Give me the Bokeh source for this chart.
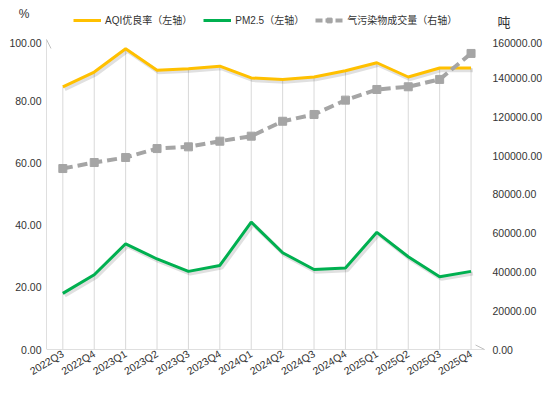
from bokeh.plotting import figure
from bokeh.layouts import column
from bokeh.models import (ColumnDataSource, Range1d, LinearAxis, NumeralTickFormatter,
                          FixedTicker, Legend, LegendItem, Arrow, OpenHead)
from bokeh.transform import dodge
from bokeh.embed import file_html
from bokeh.resources import INLINE

quarters = ["2022Q3", "2022Q4", "2023Q1", "2023Q2", "2023Q3", "2023Q4", "2024Q1",
            "2024Q2", "2024Q3", "2024Q4", "2025Q1", "2025Q2", "2025Q3", "2025Q4"]
aqi = [84.7, 89.5, 97.0, 90.1, 90.6, 91.4, 87.6, 87.1, 87.9, 89.9, 92.5, 87.9, 90.8, 90.8]
pm25 = [18.1, 24.1, 34.1, 29.2, 25.2, 27.1, 41.1, 31.2, 25.8, 26.3, 37.8, 29.9, 23.5, 25.2]
volume = [93400, 96500, 99100, 103700, 104600, 107500, 110100, 117800, 121300,
          128700, 134200, 135600, 139400, 152800]
left_ticks = [0, 20, 40, 60, 80, 100]
right_ticks = [0, 20000, 40000, 60000, 80000, 100000, 120000, 140000, 160000]
series_names = ["AQI优良率（左轴）", "PM2.5（左轴）", "气污染物成交量（右轴）"]
left_unit = "%"
right_unit = "吨"

FONT = "Liberation Sans, Noto Sans CJK SC"
TXT = "#333333"
C_AQI = "#FFC000"
C_PM = "#00B050"
C_VOL = "#A5A5A5"
GRID = "#D9D9D9"
FW = 439
HEAD_H = 38
BL, BR = 46, 56


def clean_axis(ax, size, standoff):
    ax.axis_line_color = None
    ax.major_tick_line_color = None
    ax.minor_tick_line_color = None
    ax.major_tick_out = 0
    ax.major_tick_in = 0
    ax.minor_tick_out = 0
    ax.minor_tick_in = 0
    ax.major_label_standoff = standoff
    ax.major_label_text_font = FONT
    ax.major_label_text_font_size = size
    ax.major_label_text_color = TXT


# ---------------- header: units + legend ----------------
h = figure(frame_width=FW, frame_height=HEAD_H, output_backend="svg", toolbar_location=None,
           x_range=Range1d(0, FW), y_range=Range1d(0, HEAD_H), x_axis_location=None,
           min_border_left=BL, min_border_right=BR, min_border_top=0, min_border_bottom=0)
h.outline_line_color = None
h.xgrid.grid_line_color = None
h.ygrid.grid_line_color = None
hl = h.yaxis[0]
hl.ticker = FixedTicker(ticks=[25])
hl.major_label_overrides = {25: left_unit}
clean_axis(hl, "12px", 17)
hr = LinearAxis(ticker=FixedTicker(ticks=[16]), major_label_overrides={16: right_unit})
clean_axis(hr, "13px", 12)
h.add_layout(hr, "right")

dummy = ColumnDataSource(dict(x=[float("nan")], y=[float("nan")]))
h_aqi = h.line("x", "y", source=dummy, line_color=C_AQI, line_width=3)
h_pm = h.line("x", "y", source=dummy, line_color=C_PM, line_width=3)
h_vl = h.line("x", "y", source=dummy, line_color=C_VOL, line_width=4, line_dash="7 3")
h_vs = h.scatter("x", "y", source=dummy, marker="square", size=8,
                 fill_color=C_VOL, line_color=C_VOL)
legend = Legend(items=[LegendItem(label=series_names[0], renderers=[h_aqi]),
                       LegendItem(label=series_names[1], renderers=[h_pm]),
                       LegendItem(label=series_names[2], renderers=[h_vl, h_vs])],
                orientation="horizontal", location=(27, 11), padding=0, margin=0,
                spacing=11, label_standoff=4, glyph_width=28, glyph_height=12,
                label_height=12, label_text_font=FONT, label_text_font_size="10px",
                label_text_color=TXT, border_line_color=None, background_fill_alpha=0)
h.add_layout(legend)

# ---------------- main chart ----------------
idx = list(range(len(quarters)))
src = ColumnDataSource(dict(x=idx, aqi=aqi, pm=pm25, vol=volume, base=[0] * len(idx)))

x0, x1 = -0.52, 13.46
ytop = 100.32
p = figure(frame_width=FW, frame_height=311, output_backend="svg", toolbar_location=None,
           x_range=Range1d(x0, x1), y_range=Range1d(0, ytop),
           min_border_left=BL, min_border_right=BR, min_border_top=0, min_border_bottom=30)
p.extra_y_ranges = {"right": Range1d(0, right_ticks[-1] * ytop / left_ticks[-1])}
p.outline_line_color = None
p.xgrid.grid_line_color = None
p.ygrid.grid_line_color = None

p.segment(x0="x", y0="base", x1="x", y1="aqi", source=src, line_color=GRID, line_width=1)

for col in ("aqi", "pm"):
    p.line(x=dodge("x", 0.06), y=dodge(col, -0.7), source=src, line_color="#000000",
           line_alpha=0.12, line_width=4)

p.line(x="x", y="aqi", source=src, line_color=C_AQI, line_width=3)
p.line(x="x", y="pm", source=src, line_color=C_PM, line_width=3)
p.line(x="x", y="vol", source=src, y_range_name="right", line_color=C_VOL,
       line_width=4, line_dash="10 5")
p.scatter(x="x", y="vol", source=src, y_range_name="right", marker="square",
          size=8, fill_color=C_VOL, line_color=C_VOL)

xa = p.xaxis[0]
xa.ticker = FixedTicker(ticks=idx)
xa.major_label_overrides = {i: q for i, q in zip(idx, quarters)}
xa.major_label_orientation = 0.54
clean_axis(xa, "10.5px", 3)

ya = p.yaxis[0]
ya.ticker = FixedTicker(ticks=left_ticks)
ya.formatter = NumeralTickFormatter(format="0.00")
clean_axis(ya, "10.5px", 5)

ra = LinearAxis(y_range_name="right", ticker=FixedTicker(ticks=right_ticks),
                formatter=NumeralTickFormatter(format="0.00"))
clean_axis(ra, "10.5px", 7)
p.add_layout(ra, "right")

p.add_layout(Arrow(x_start=x0, y_start=0, x_end=x0, y_end=left_ticks[-1],
                   line_color="#BFBFBF", line_width=1,
                   end=OpenHead(size=9, line_color="#BFBFBF", line_width=1)))
p.add_layout(Arrow(x_start=x0, y_start=0, x_end=x1 - 0.03, y_end=0,
                   line_color="#BFBFBF", line_width=1,
                   end=OpenHead(size=9, line_color="#BFBFBF", line_width=1)))

layout = column(h, p, spacing=0)
open("out.html", "w").write(file_html(layout, INLINE))
